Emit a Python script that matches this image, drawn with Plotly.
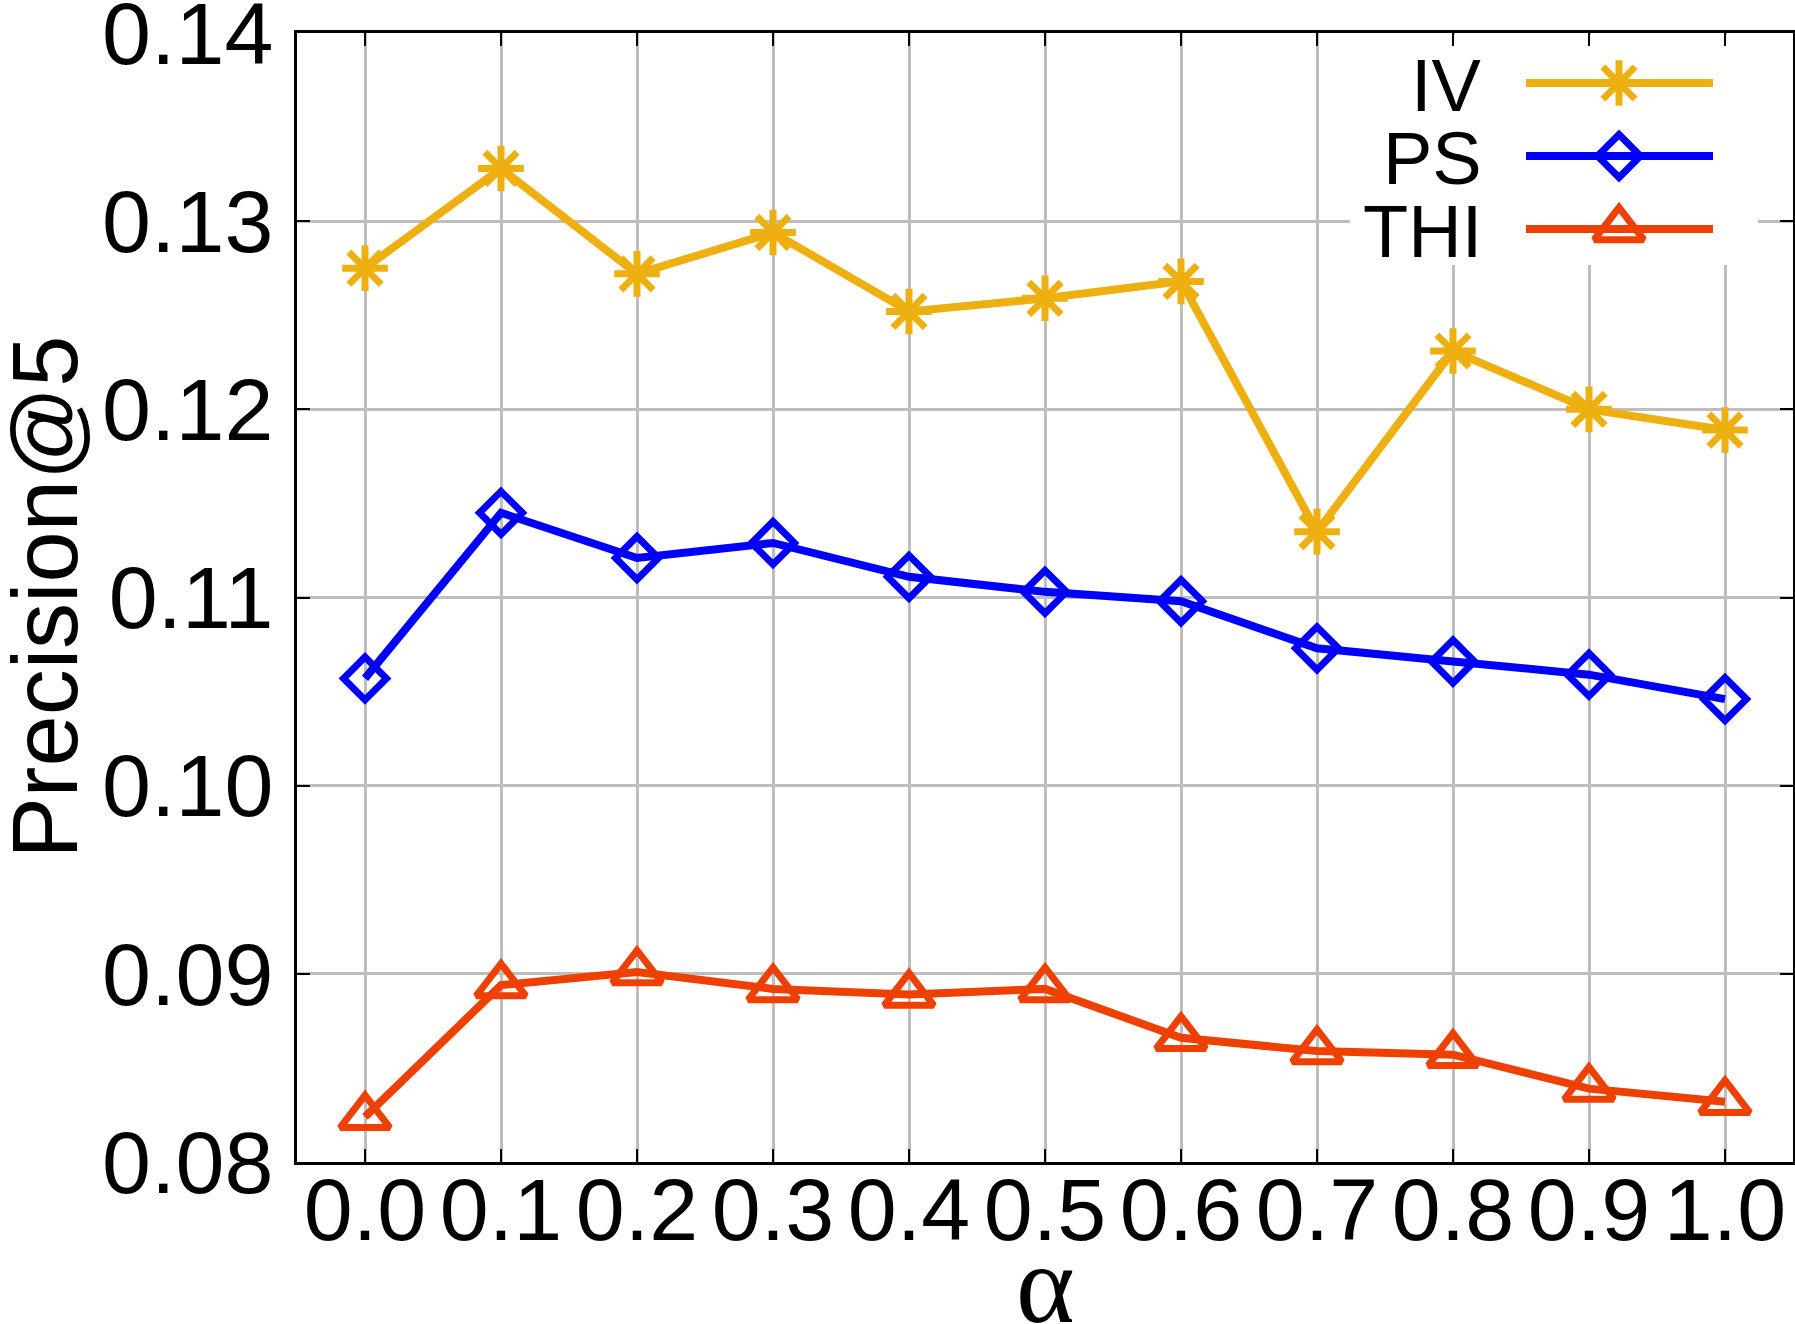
import plotly.graph_objects as go

# ---------------- data ----------------
alpha = [0.0, 0.1, 0.2, 0.3, 0.4, 0.5, 0.6, 0.7, 0.8, 0.9, 1.0]
x_tick_labels = ["0.0", "0.1", "0.2", "0.3", "0.4", "0.5", "0.6", "0.7", "0.8", "0.9", "1.0"]
iv = [0.1275, 0.1328, 0.1272, 0.1294, 0.1252, 0.1259, 0.1268, 0.1135, 0.1231, 0.1200, 0.1189]
ps = [0.1057, 0.1145, 0.1121, 0.1129, 0.1111, 0.1103, 0.1098, 0.1073, 0.1066, 0.1059, 0.1046]
thi = [0.0824, 0.0894, 0.0901, 0.0892, 0.0889, 0.0892, 0.0866, 0.0859, 0.0857, 0.0839, 0.0832]
y_ticks = [0.08, 0.09, 0.10, 0.11, 0.12, 0.13, 0.14]
y_tick_labels = ["0.08", "0.09", "0.10", "0.11", "0.12", "0.13", "0.14"]
series_names = ["IV", "PS", "THI"]

# ---------------- style ----------------
W, H = 1795, 1324
L, R, T, B = 297, 1793, 33, 1162
X_RANGE = [-0.05, 1.05]
Y_RANGE = [0.08, 0.14]
FONT = "Liberation Sans, Arial, Helvetica, sans-serif"
C_IV = "#edb010"
C_PS = "#0000ff"
C_THI = "#ee4000"
LW = 8
MLW = 7
styles = [
    dict(color=C_IV, symbol="asterisk-open", size=38),
    dict(color=C_PS, symbol="diamond-open", size=33),
    dict(color=C_THI, symbol="triangle-up-open", size=43),
]
series = [iv, ps, thi]


def px_to_x(px):
    return X_RANGE[0] + (px - L) / (R - L) * (X_RANGE[1] - X_RANGE[0])


def px_to_y(py):
    return Y_RANGE[1] - (py - T) / (B - T) * (Y_RANGE[1] - Y_RANGE[0])


fig = go.Figure()
for name, ys, st in zip(series_names, series, styles):
    fig.add_trace(go.Scatter(
        x=alpha, y=ys, mode="lines+markers", name=name, showlegend=False,
        line=dict(color=st["color"], width=LW),
        marker=dict(symbol=st["symbol"], size=st["size"], color=st["color"],
                    line=dict(width=MLW, color=st["color"])),
    ))

# ---------------- manual gnuplot-style key (overlay pixel axes) ----------------
key_rows = [83, 156, 229]
key_line_x = [1526, 1713]
key_mark_x = 1619
key_text_x = 1484
for name, st, ky in zip(series_names, styles, key_rows):
    fig.add_trace(go.Scatter(
        x=key_line_x, y=[ky, ky], xaxis="x2", yaxis="y2", mode="lines",
        showlegend=False, hoverinfo="skip",
        line=dict(color=st["color"], width=LW),
    ))
    fig.add_trace(go.Scatter(
        x=[key_mark_x], y=[ky], xaxis="x2", yaxis="y2", mode="markers",
        showlegend=False, hoverinfo="skip",
        marker=dict(symbol=st["symbol"], size=st["size"], color=st["color"],
                    line=dict(width=MLW, color=st["color"])),
    ))
    fig.add_annotation(x=key_text_x, y=ky + 2, xref="x2", yref="y2", text=name,
                       showarrow=False, xanchor="right", yanchor="middle",
                       font=dict(family=FONT, size=74, color="black"))

# white box behind the key (hides grid lines, stays under traces)
fig.add_shape(type="rect", xref="x", yref="y",
              x0=px_to_x(1350), x1=px_to_x(1758), y0=px_to_y(T + 2), y1=px_to_y(265),
              fillcolor="white", line=dict(width=0), layer="between")

axis_common = dict(
    showgrid=True, gridcolor="#bebebe", gridwidth=3,
    ticks="inside", ticklen=13, tickwidth=2, tickcolor="black",
    showline=True, linewidth=3, linecolor="black", mirror="ticks",
    zeroline=False, tickfont=dict(family=FONT, size=88, color="black"),
    ticklabeloverflow="allow", automargin=False,
)

fig.update_layout(
    width=W, height=H, autosize=False,
    margin=dict(l=L, r=W - R, t=T, b=H - B, pad=0, autoexpand=False),
    paper_bgcolor="white", plot_bgcolor="white",
    xaxis=dict(range=X_RANGE, tickmode="array", tickvals=alpha,
               ticktext=x_tick_labels, ticklabelstandoff=-31, **axis_common),
    yaxis=dict(range=Y_RANGE, tickmode="array", tickvals=y_ticks,
               ticktext=y_tick_labels, ticklabelstandoff=3, **axis_common),
    xaxis2=dict(overlaying="x", range=[L, R], visible=False, fixedrange=True),
    yaxis2=dict(overlaying="y", range=[B, T], visible=False, fixedrange=True),
    showlegend=False,
)

fig.add_annotation(xref="paper", yref="paper", x=0, y=0.5, xshift=-(L - 44),
                   text="Precision@5", textangle=-90, showarrow=False,
                   xanchor="center", yanchor="middle",
                   font=dict(family=FONT, size=92, color="black"))
fig.add_annotation(xref="paper", yref="paper", x=0.5, y=0, yshift=-(1284 - B),
                   text="α", showarrow=False, xanchor="center", yanchor="middle",
                   font=dict(family="Liberation Serif, DejaVu Serif, serif", size=112, color="black"))

fig.write_html("out.html")
